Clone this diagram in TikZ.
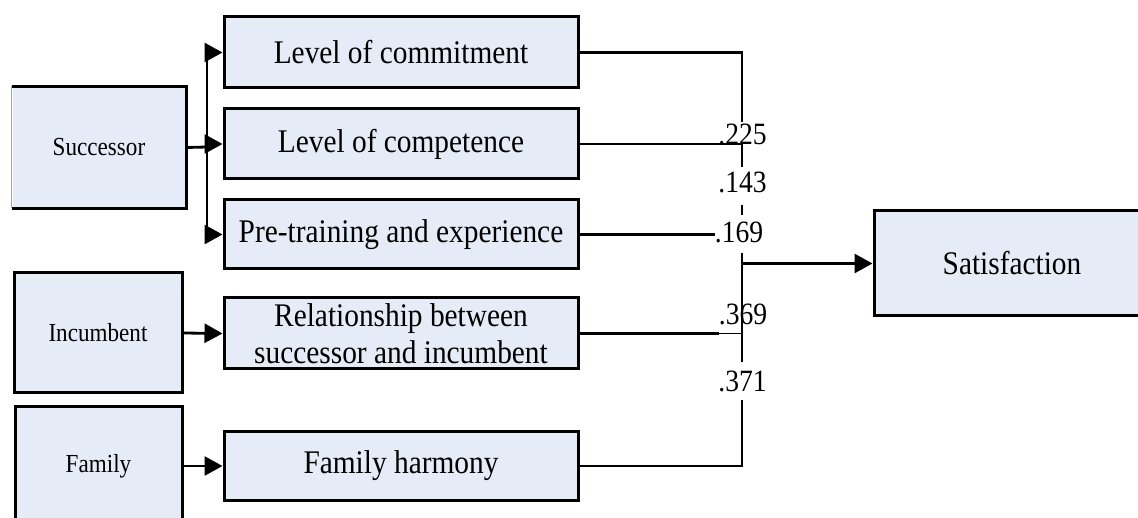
\documentclass[tikz,border=0pt]{standalone}
\usepackage{fontspec}
\setmainfont[FakeStretch=0.89]{Liberation Serif}
\usetikzlibrary{arrows.meta}
\definecolor{boxfill}{RGB}{229,236,247}
\begin{document}
\begin{tikzpicture}[x=1pt,y=-1pt,
  box/.style={draw=black, line width=3pt, fill=boxfill, inner sep=0pt, align=center},
  bigtext/.style={font=\fontsize{33}{37}\selectfont},
  smalltext/.style={font=\fontsize{26}{30}\selectfont},
  midbox/.style={box, bigtext, minimum width=354pt},
  conn/.style={line width=2.8pt},
  thinconn/.style={line width=1.3pt},
  tip/.style={-{Triangle[length=18pt,width=19pt]}},
  coef/.style={font=\fontsize{31}{36}\selectfont, inner sep=0pt, anchor=base}
]
\useasboundingbox (0,0) rectangle (1138,518);
\clip (0,0) rectangle (1138,518);

% source boxes
\node[box, smalltext, draw=none, minimum width=172pt, minimum height=119pt] (succ) at (99,147.5) {Successor};
\draw[line width=3pt] (succ.north west) -- (succ.north east) -- (succ.south east) -- (succ.south west);
\draw[black!35, line width=1pt] (succ.north west) -- (succ.south west);
\node[box, smalltext, minimum width=168pt, minimum height=120pt] (inc) at (98,333) {Incumbent};
\node[box, smalltext, minimum width=167pt, minimum height=118pt] (fam) at (98.5,466) {Family};

% factor boxes
\node[midbox, minimum height=71pt] (com)  at (401,52.5)  {Level of commitment};
\node[midbox, minimum height=70pt] (cpt)  at (401,144)   {Level of competence};
\node[midbox, minimum height=69pt] (pre)  at (401,234.5) {Pre-training and experience};
\node[midbox, minimum height=71pt] (rel)  at (401,333.5) {Relationship between\\successor and incumbent};
\node[midbox, minimum height=68pt] (harm) at (401,466)   {Family harmony};

% outcome box
\node[box, bigtext, minimum width=276pt, minimum height=105pt] (sat) at (1012,263.5) {Satisfaction};

% path coefficients
\node[coef] (c225) at (742.5,145) {.225};
\node[coef] (c143) at (742.5,193) {.143};
\node[coef] (c169) at (739,243)   {.169};
\node[coef] (c369) at (743,325)   {.369};
\node[coef] (c371) at (742.5,392) {.371};

% fan-out from the successor
\coordinate (bus) at (207,147);
\draw[conn] (succ.east) -- (bus);
\draw[conn] (bus |- com.west) -- (bus |- pre.west);
\draw[conn,tip] (bus |- com.west) -- (com.west);
\draw[conn,tip] (bus |- cpt.west) -- (cpt.west);
\draw[conn,tip] (bus |- pre.west) -- (pre.west);
\draw[conn,tip] (inc.east) -- (rel.west);
\draw[conn,tip] (fam.east) -- (harm.west);

% collecting line on the right
\coordinate (t1) at (742,122);
\coordinate (t2) at (742,142);
\coordinate (t3) at (742,167);
\coordinate (t4) at (742,205);
\coordinate (t5) at (742,215);
\coordinate (t6) at (742,253);
\coordinate (t7) at (742,362);
\coordinate (t8) at (742,400);
\coordinate (sum) at (742,263.5);
\draw[conn] (com.east) -| (t1);
\draw[conn] (cpt.east) -- (cpt.east -| t2);
\draw[conn] (t2) -- (t3);
\draw[conn] (t4) -- (t5);
\draw[conn] (t6) -- (t7);
\draw[conn] (t8) |- (harm.east);
\draw[conn] (pre.east) -- (pre.east -| c169.west);
\draw[conn] (rel.east) -- (rel.east -| c369.west);
\draw[thinconn] (rel.east -| c369.west) -- (rel.east -| sum);
\draw[conn,tip] (sum) -- (sat.west);
\end{tikzpicture}
\end{document}
